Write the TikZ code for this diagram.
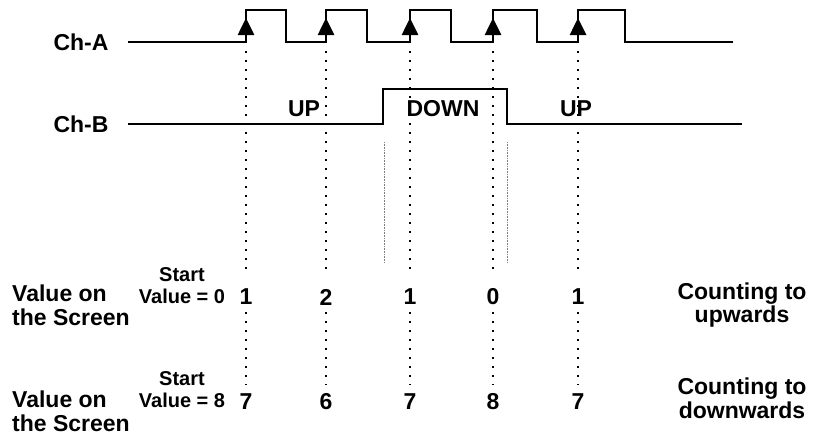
\documentclass[tikz,border=0pt]{standalone}
\usepackage{fontspec}
\setmainfont{Liberation Sans}
\usetikzlibrary{arrows.meta}
\tikzset{
  wave/.style={line width=2.6pt,line join=miter},
  risemark/.style={-{Triangle[width=16pt,length=17pt]},line width=2.6pt},
  edgedots/.style={line width=2pt,dash pattern=on 2pt off 7pt},
  gatedots/.style={gray,line width=0.8pt,dash pattern=on 0.8pt off 0.8pt},
  chlabel/.style={font=\bfseries\fontsize{23}{24}\selectfont,inner sep=0pt},
  rowlabel/.style={font=\bfseries\fontsize{23}{24}\selectfont,align=left,inner sep=0pt,anchor=west},
  startlabel/.style={font=\bfseries\fontsize{20}{22}\selectfont,align=center,inner sep=0pt},
  countlabel/.style={font=\bfseries\fontsize{23}{23.5}\selectfont,align=center,inner sep=0pt},
  num/.style={font=\bfseries\fontsize{23}{24}\selectfont,inner sep=0pt}
}
\begin{document}
\begin{tikzpicture}[x=1pt,y=-1pt]
  \useasboundingbox (0,0) rectangle (818,437);
  % channel names
  \node[chlabel] (chA) at (81,42) {Ch-A};
  \node[chlabel] (chB) at (81,124) {Ch-B};
  % waveforms
  \draw[wave] (128,42) -- (246,42) -- (246,10) -- (286,10) -- (286,42)
    -- (326,42) -- (326,10) -- (367,10) -- (367,42)
    -- (410,42) -- (410,10) -- (451,10) -- (451,42)
    -- (493,42) -- (493,10) -- (537,10) -- (537,42)
    -- (578,42) -- (578,10) -- (625,10) -- (625,42) -- (733,42);
  \draw[wave] (128,124) -- (383,124) -- (383,89) -- (507,89) -- (507,124) -- (742,124);
  \node[chlabel] (upA) at (304,109) {UP};
  \node[chlabel] (down) at (443,109) {DOWN};
  \node[chlabel] (upB) at (576,109) {UP};
  % direction change
  \draw[gatedots] (384,142) -- (384,263);
  \draw[gatedots] (507,142) -- (507,263);
  % rising edges and counter values
  \foreach \x/\a/\b [count=\i] in {246/1/7,326/2/6,410/1/7,493/0/8,578/1/7}{
    \draw[risemark] (\x,42) -- (\x,18);
    \node[num] (up\i) at (\x,297) {\a};
    \node[num] (dn\i) at (\x,402) {\b};
    \draw[edgedots] (\x,51) -- (\x,270);
    \draw[edgedots] (\x,312) -- (\x,385);
  }
  % row labels
  \node[rowlabel] (valUp) at (12,305) {Value on\\the Screen};
  \node[rowlabel] (valDn) at (12,411.5) {Value on\\the Screen};
  \node[startlabel] (startUp) at (182,286) {Start\\Value = 0};
  \node[startlabel] (startDn) at (182,390) {Start\\Value = 8};
  \node[countlabel] (cntUp) at (742,305) {Counting to\\upwards};
  \node[countlabel] (cntDn) at (742,398.5) {Counting to\\downwards};
\end{tikzpicture}
\end{document}
